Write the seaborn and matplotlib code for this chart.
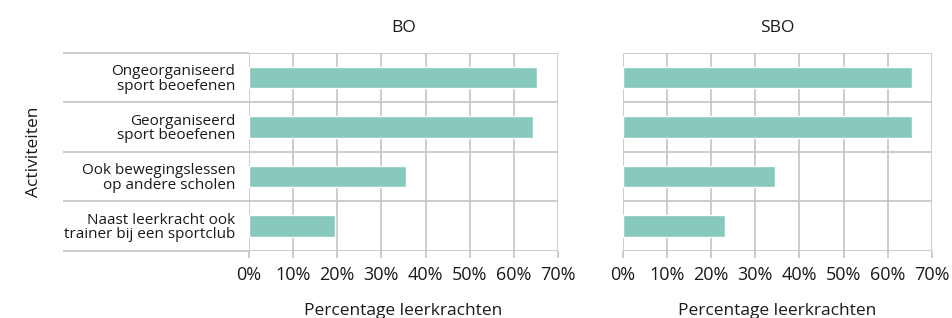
import pandas as pd
import seaborn as sns
import matplotlib.pyplot as plt
from matplotlib.ticker import PercentFormatter

# data
activiteiten = ["Ongeorganiseerd\nsport beoefenen",
                "Georganiseerd\nsport beoefenen",
                "Ook bewegingslessen\nop andere scholen",
                "Naast leerkracht ook\ntrainer bij een sportclub"]
bo_values = [65.2, 64.3, 35.5, 19.5]
sbo_values = [65.4, 65.4, 34.5, 23.2]
panels = ["BO", "SBO"]
x_ticks = [0, 10, 20, 30, 40, 50, 60, 70]

df = pd.DataFrame({
    "Activiteit": activiteiten * 2,
    "Percentage": bo_values + sbo_values,
    "Groep": ["BO"] * 4 + ["SBO"] * 4,
})

sns.set_theme(style="white")
plt.rcParams["font.family"] = ["Open Sans", "DejaVu Sans"]
plt.rcParams["text.color"] = "#1a1a1a"
plt.rcParams["axes.labelcolor"] = "#1a1a1a"
plt.rcParams["xtick.color"] = "#1a1a1a"
plt.rcParams["ytick.color"] = "#1a1a1a"

bar_color = "#88c9bd"
grid_color = "#c4c4c4"

fig = plt.figure(figsize=(9.53, 3.18), dpi=100)
ax_left = fig.add_axes([0.2613, 0.2116, 0.3242, 0.6227])
ax_right = fig.add_axes([0.6534, 0.2116, 0.3246, 0.6227])

for ax, groep in zip([ax_left, ax_right], panels):
    sub = df[df["Groep"] == groep]
    sns.barplot(data=sub, y="Activiteit", x="Percentage", orient="h",
                color=bar_color, saturation=1, width=0.44, ax=ax, zorder=3)
    ax.set_xlim(0, 70)
    ax.set_ylim(3.5, -0.5)
    ax.set_xticks(x_ticks)
    ax.xaxis.set_major_formatter(PercentFormatter(decimals=0))
    ax.set_title(groep, fontsize=12.5, pad=15)
    ax.set_xlabel("Percentage leerkrachten", fontsize=12.5, labelpad=14)
    for s in ax.spines.values():
        s.set_visible(False)
    # vertical grid + separators between categories
    ax.grid(axis="x", which="major", color=grid_color, linewidth=1.2, zorder=0)
    ax.set_yticks([-0.5, 0.5, 1.5, 2.5, 3.5], minor=True)
    ax.grid(axis="y", which="minor", color=grid_color, linewidth=1.2, zorder=0)
    ax.tick_params(axis="x", which="major", bottom=True, length=5, width=1.2,
                   color=grid_color, labelsize=13, pad=6)
    ax.tick_params(axis="y", which="major", length=0, labelsize=11, pad=10)

ax_left.set_ylabel("Activiteiten", fontsize=12.5, labelpad=12)
ax_left.tick_params(axis="y", which="minor", left=True, length=134, width=1.2,
                    color=grid_color)
for lab in ax_left.get_yticklabels():
    lab.set_linespacing(0.95)

ax_right.set_ylabel("")
ax_right.set_yticklabels([])
ax_right.tick_params(axis="y", which="minor", left=False, length=0)

fig.savefig("out.png", dpi=100)
